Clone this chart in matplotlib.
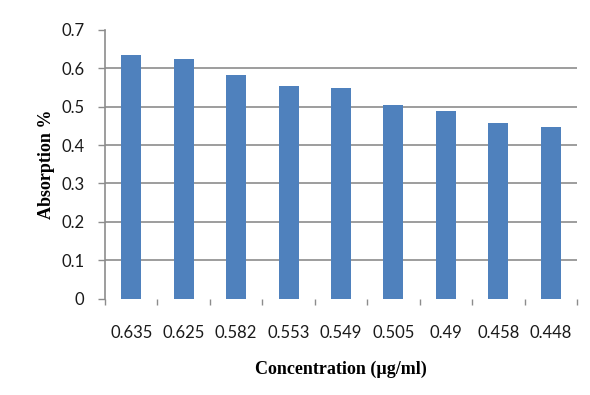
import matplotlib
matplotlib.use("Agg")
import matplotlib.pyplot as plt
import numpy as np

categories = ["0.635", "0.625", "0.582", "0.553", "0.549", "0.505", "0.49", "0.458", "0.448"]
values = [0.635, 0.625, 0.582, 0.553, 0.549, 0.505, 0.49, 0.458, 0.448]
yticks = [0, 0.1, 0.2, 0.3, 0.4, 0.5, 0.6, 0.7]
ytick_labels = ["0", "0.1", "0.2", "0.3", "0.4", "0.5", "0.6", "0.7"]

fig = plt.figure(figsize=(5.9, 3.95), dpi=100)
ax = fig.add_axes([105/590, 1 - 298.5/395, 472/590, (298.5 - 30)/395])

x = np.arange(len(categories))
ax.bar(x, values, width=0.38, color="#4F81BD", zorder=3)

ax.set_xlim(-0.5, len(categories) - 0.5)
ax.set_ylim(0, 0.7)

grid_c = "#8C8C8C"
for t in yticks[1:-1]:
    ax.axhline(t, color=grid_c, lw=1.2, zorder=1)

ax.set_yticks(yticks)
ax.set_yticklabels(ytick_labels, fontfamily="Lato", fontsize=12, color="#1a1a1a")
ax.set_xticks(x)
ax.set_xticklabels(categories, fontfamily="Lato", fontsize=12, color="#1a1a1a")
ax.set_xticks(np.arange(len(categories) + 1) - 0.5, minor=True)

ax.tick_params(axis="x", which="major", length=0, pad=19)
ax.tick_params(axis="x", which="minor", length=4, width=1.0, color=grid_c, direction="out")
ax.tick_params(axis="y", which="major", length=5, width=1.0, color=grid_c, pad=10)

for s in ["top", "right", "bottom"]:
    ax.spines[s].set_visible(False)
ax.spines["left"].set_color(grid_c)
ax.spines["left"].set_linewidth(1.2)

ax.set_ylabel("Absorption %", fontfamily="Liberation Serif", fontweight="bold", fontsize=13, labelpad=4)
ax.set_xlabel("Concentration (µg/ml)", fontfamily="Liberation Serif", fontweight="bold", fontsize=13, labelpad=14)

fig.savefig("out.png", dpi=100, facecolor="white")
